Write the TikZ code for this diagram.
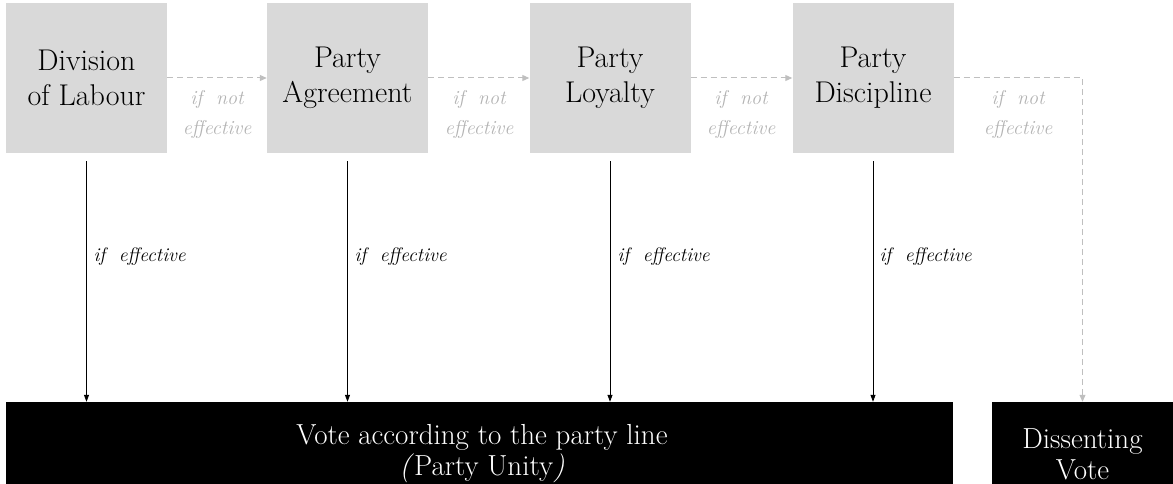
\documentclass[tikz,border=0pt]{standalone}
\usepackage{fontspec}
\usetikzlibrary{arrows.meta}
\definecolor{boxgray}{HTML}{D9D9D9}
\definecolor{dashgray}{HTML}{BFBFBF}
\definecolor{labgray}{HTML}{B3B3B3}
\begin{document}
\begin{tikzpicture}[x=1pt,y=-1pt,
  stage/.style={fill=boxgray,draw=none,minimum width=161pt,minimum height=150pt,inner sep=0pt,align=center,font=\fontsize{30}{35}\selectfont},
  result/.style={fill=black,draw=none,inner sep=0pt},
  resulttext/.style={text=white,align=center,font=\fontsize{29}{31}\selectfont},
  fail/.style={draw=dashgray,dash pattern=on 6pt off 4pt,line width=1pt,-{Triangle[length=7pt,width=6pt]}},
  ok/.style={draw=black,line width=0.8pt,-{Triangle[length=7pt,width=5pt]}},
  faillab/.style={text=labgray,align=center,font=\itshape\fontsize{20}{30}\selectfont},
  oklab/.style={anchor=west,font=\itshape\fontsize{19.5}{24}\selectfont}]
\useasboundingbox (0,0) rectangle (1173,484);
% stages
\node[stage] (s1) at (86.5,78) {Division\\of Labour};
\node[stage] (s2) at (347.5,78) {Party\\Agreement};
\node[stage] (s3) at (610,78) {Party\\Loyalty};
\node[stage] (s4) at (873,78) {Party\\Discipline};
% results
\node[result,minimum width=947pt,minimum height=82pt] (unity) at (479.5,443) {};
\node[resulttext] (unitytxt) at (482,454) {Vote according to the party line\\\textit{(}Party Unity\textit{)}};
\node[result,minimum width=181pt,minimum height=82pt] (dissent) at (1082.5,443) {};
\node[resulttext] (dissenttxt) at (1082.5,454) {Dissenting\\Vote};
% not effective arrows
\draw[fail] (s1.east) -- (s2.west);
\draw[fail] (s2.east) -- (s3.west);
\draw[fail] (s3.east) -- (s4.west);
\draw[fail] (s4.east) -| (dissent.north);
\node[faillab] (n1) at (217,115) {if \ not\\effective};
\node[faillab] (n2) at (479,115) {if \ not\\effective};
\node[faillab] (n3) at (741,115) {if \ not\\effective};
\node[faillab] (n4) at (1018,115) {if \ not\\effective};
% effective arrows
\draw[ok] ([yshift=-8pt]s1.south) -- (s1.south |- unity.north);
\draw[ok] ([yshift=-8pt]s2.south) -- (s2.south |- unity.north);
\draw[ok] ([yshift=-8pt]s3.south) -- (s3.south |- unity.north);
\draw[ok] ([yshift=-8pt]s4.south) -- (s4.south |- unity.north);
\node[oklab] (e1) at (90,257) {if \ effective};
\node[oklab] (e2) at (351,257) {if \ effective};
\node[oklab] (e3) at (614,257) {if \ effective};
\node[oklab] (e4) at (876,257) {if \ effective};
\end{tikzpicture}
\end{document}
